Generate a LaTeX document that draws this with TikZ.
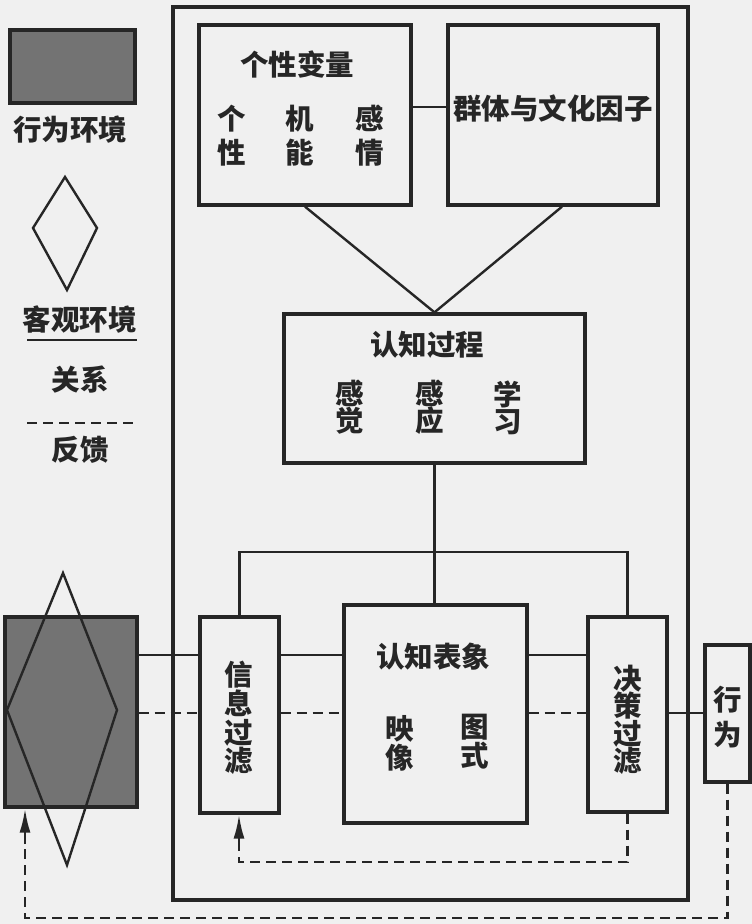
\documentclass[tikz,border=0pt]{standalone}
\usepackage{fontspec}
\newfontfamily\cjk{Noto Sans CJK SC}
\usetikzlibrary{calc,positioning}
\usetikzlibrary{arrows.meta}

\begin{document}
\begin{tikzpicture}[x=1pt,y=-1pt,
box/.style={draw=black!85,line width=3.3pt,inner sep=0pt},
conn/.style={draw=black!85,line width=2.4pt},
fb/.style={conn,dash pattern=on 10pt off 6pt},
tip/.style={draw=black!85,line width=2.4pt,-{Latex[length=24pt,width=11pt]}},
txt/.style={align=center,inner sep=0pt,text=black!85,font=\cjk\bfseries\fontsize{28.5}{#1}\selectfont},
txt/.default=34]
\fill[gray!12](0,0)rectangle(752,924);
\useasboundingbox(0,0)rectangle(752,924);
\node[box,fill=black!55,minimum width=125pt,minimum height=73pt](lenv)at(72.5,66.5){};
\node[txt](lenvt)at(70,130){行为环境};
\coordinate(ld1)at(65,177);\coordinate(ld2)at(97,228);
\coordinate(ld3)at(67,290);\coordinate(ld4)at(33,228);
\draw[conn](ld1)--(ld2)--(ld3)--(ld4)--cycle;
\node[txt](lobjt)at(80,320){客观环境};
\coordinate(lr1)at(27,340);\coordinate(lr2)at(137,340);
\draw[conn](lr1)--(lr2);
\node[txt](lrelt)at(80,380){关系};
\coordinate(lf1)at(27,423);\coordinate(lf2)at(137,423);
\draw[fb](lf1)--(lf2);
\node[txt](lfbt)at(80,450){反馈};
\node[box,minimum width=515pt,minimum height=893pt](frame)at(430.5,453.5){};
\node[box,minimum width=212pt,minimum height=180pt](pers)at(305,115){};
\node[box,minimum width=210pt,minimum height=180pt](grp)at(553,115){};
\node[box,minimum width=301pt,minimum height=149pt](proc)at(434.5,388.5){};
\node[box,minimum width=183pt,minimum height=218pt](rep)at(435.5,714){};
\node[box,minimum width=79pt,minimum height=196pt](info)at(239.5,715){};
\node[box,minimum width=79pt,minimum height=195pt](dec)at(627.5,714.5){};
\node[box,minimum width=45pt,minimum height=137pt](act)at(727.5,713.5){};
\node[box,fill=black!55,minimum width=132pt,minimum height=190pt](env)at(71,712){};
\coordinate(ed1)at(63,573);\coordinate(ed2)at(117,710);
\coordinate(ed3)at(67,865);\coordinate(ed4)at(7,710);
\draw[conn](ed1)--(ed2)--(ed3)--(ed4)--cycle;
\node[txt](perst)at(297,65){个性变量};
\node[txt](pers1)at(232,136){个\\性};
\node[txt](pers2)at(300,136){机\\能};
\node[txt](pers3)at(370,136){感\\情};
\node[txt](grpt)at(553,108){群体与文化因子};
\node[txt](proct)at(427,345){认知过程};
\node[txt=27](proc1)at(350,407.5){感\\觉};
\node[txt=27](proc2)at(430,407.5){感\\应};
\node[txt=27](proc3)at(508,407.5){学\\习};
\node[txt](rept)at(433,657){认知表象};
\node[txt=29](rep1)at(400,743){映\\像};
\node[txt=29](rep2)at(475,742){图\\式};
\node[txt=28.7](infot)at(239,718){信\\息\\过\\滤};
\node[txt=27.5](dect)at(628,720){决\\策\\过\\滤};
\node[txt=35](actt)at(728,717.5){行\\为};
\coordinate(srow)at(0,655);\coordinate(drow)at(0,713);
\draw[conn]([yshift=8pt]pers.east)--([yshift=8pt]grp.west);
\draw[conn](pers.south)--(proc.north);
\draw[conn]([xshift=9pt]grp.south)--(proc.north);
\coordinate(bar)at(434,552);
\draw[conn](proc.south)--(proc.south|-rep.north);
\draw[conn](info.north)|-(bar)-|(dec.north);
\draw[conn](env.east|-srow)--(info.west|-srow);
\draw[fb](env.east|-drow)--(info.west|-drow);
\draw[conn](info.east|-srow)--(rep.west|-srow);
\draw[fb](info.east|-drow)--(rep.west|-drow);
\draw[conn](rep.east|-srow)--(dec.west|-srow);
\draw[fb](rep.east|-drow)--(dec.west|-drow);
\draw[conn](dec.east|-drow)--(act.west|-drow);
\coordinate(fbin)at(239,862);\coordinate(fbout)at(25,918);
\coordinate(tipin)at(239,848);\coordinate(tipout)at(25,844);
\draw[fb](dec.south)|-(fbin)--(tipin);
\draw[tip](tipin)--(fbin|-info.south);
\draw[fb](act.south)|-(fbout)--(tipout);
\draw[tip](tipout)--(fbout|-env.south);
\end{tikzpicture}
\end{document}
